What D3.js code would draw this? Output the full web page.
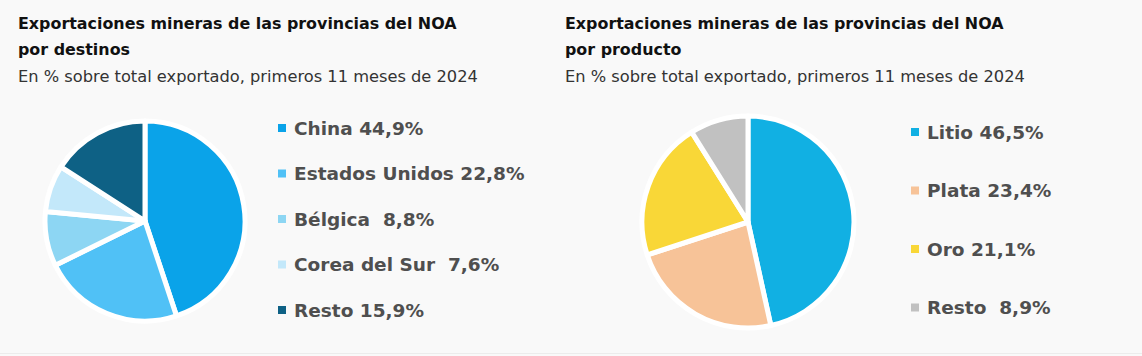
<!DOCTYPE html>
<html><head><meta charset="utf-8">
<script src="https://cdn.jsdelivr.net/npm/d3@7"></script>
<style>
html,body{margin:0;padding:0;background:#f9f9f9;}
svg{display:block;}
text{font-family:"DejaVu Sans",sans-serif;white-space:pre;}
</style></head><body>
<svg id="c" width="1142" height="356"></svg>
<script>
const destCategories = ["China", "Estados Unidos", "Bélgica ", "Corea del Sur ", "Resto"];
const destValues = [44.9, 22.8, 8.8, 7.6, 15.9];
const destColors = ["#0aa3e9", "#50c1f6", "#8dd6f3", "#c3e8fa", "#0e6185"];

const prodCategories = ["Litio", "Plata", "Oro", "Resto "];
const prodValues = [46.5, 23.4, 21.1, 8.9];
const prodColors = ["#11b0e3", "#f7c398", "#f9d737", "#c1c1c1"];

const titles = ["Exportaciones mineras de las provincias del NOA", "Exportaciones mineras de las provincias del NOA"];
const titles2 = ["por destinos", "por producto"];
const subtitle = "En % sobre total exportado, primeros 11 meses de 2024";

const svg = d3.select("#c");
svg.append("rect").attr("width",1142).attr("height",356).attr("fill","#f9f9f9");
svg.append("line").attr("x1",0).attr("x2",1142).attr("y1",353.5).attr("y2",353.5).attr("stroke","#ececec").attr("stroke-width",1);

const fmt = v => d3.format(".1f")(v).replace(".", ",") + "%";

function panel(x0, t1, t2, cats, vals, cols, cx, cy, r, legX, legY, legStep) {
  const g = svg.append("g");
  g.append("text").attr("x", x0).attr("y", 29).attr("font-size", 15.9).attr("font-weight", 700)
    .attr("fill", "#111").text(t1);
  g.append("text").attr("x", x0).attr("y", 55).attr("font-size", 15.9).attr("font-weight", 700)
    .attr("fill", "#111").text(t2);
  g.append("text").attr("x", x0).attr("y", 82).attr("font-size", 16.25).attr("font-weight", 400)
    .attr("fill", "#333").text(subtitle);

  const pie = d3.pie().sort(null).value(d => d)(vals);
  const arc = d3.arc().innerRadius(0).outerRadius(r);
  g.append("g").attr("transform", `translate(${cx},${cy})`)
    .selectAll("path").data(pie).join("path")
    .attr("d", arc).attr("fill", (d, i) => cols[i])
    .attr("stroke", "#ffffff").attr("stroke-width", 5).attr("stroke-linejoin", "round");

  const yScale = d3.scaleLinear().domain([0, cats.length - 1]).range([legY, legY + legStep * (cats.length - 1)]);
  const lg = g.append("g");
  cats.forEach((c, i) => {
    const y = yScale(i);
    lg.append("rect").attr("x", legX).attr("y", y - 4).attr("width", 8).attr("height", 8).attr("fill", cols[i]);
    lg.append("text").attr("x", legX + 16).attr("y", y).attr("dy", "0.36em")
      .attr("font-size", 18.5).attr("font-weight", 700).attr("fill", "#4f4f4f")
      .text(c + " " + fmt(vals[i]));
  });
}

panel(18, titles[0], titles2[0], destCategories, destValues, destColors, 145, 221, 100, 278, 128, 45.5);
panel(565, titles[1], titles2[1], prodCategories, prodValues, prodColors, 748, 222, 106, 911, 132, 58.5);
</script>
</body></html>
